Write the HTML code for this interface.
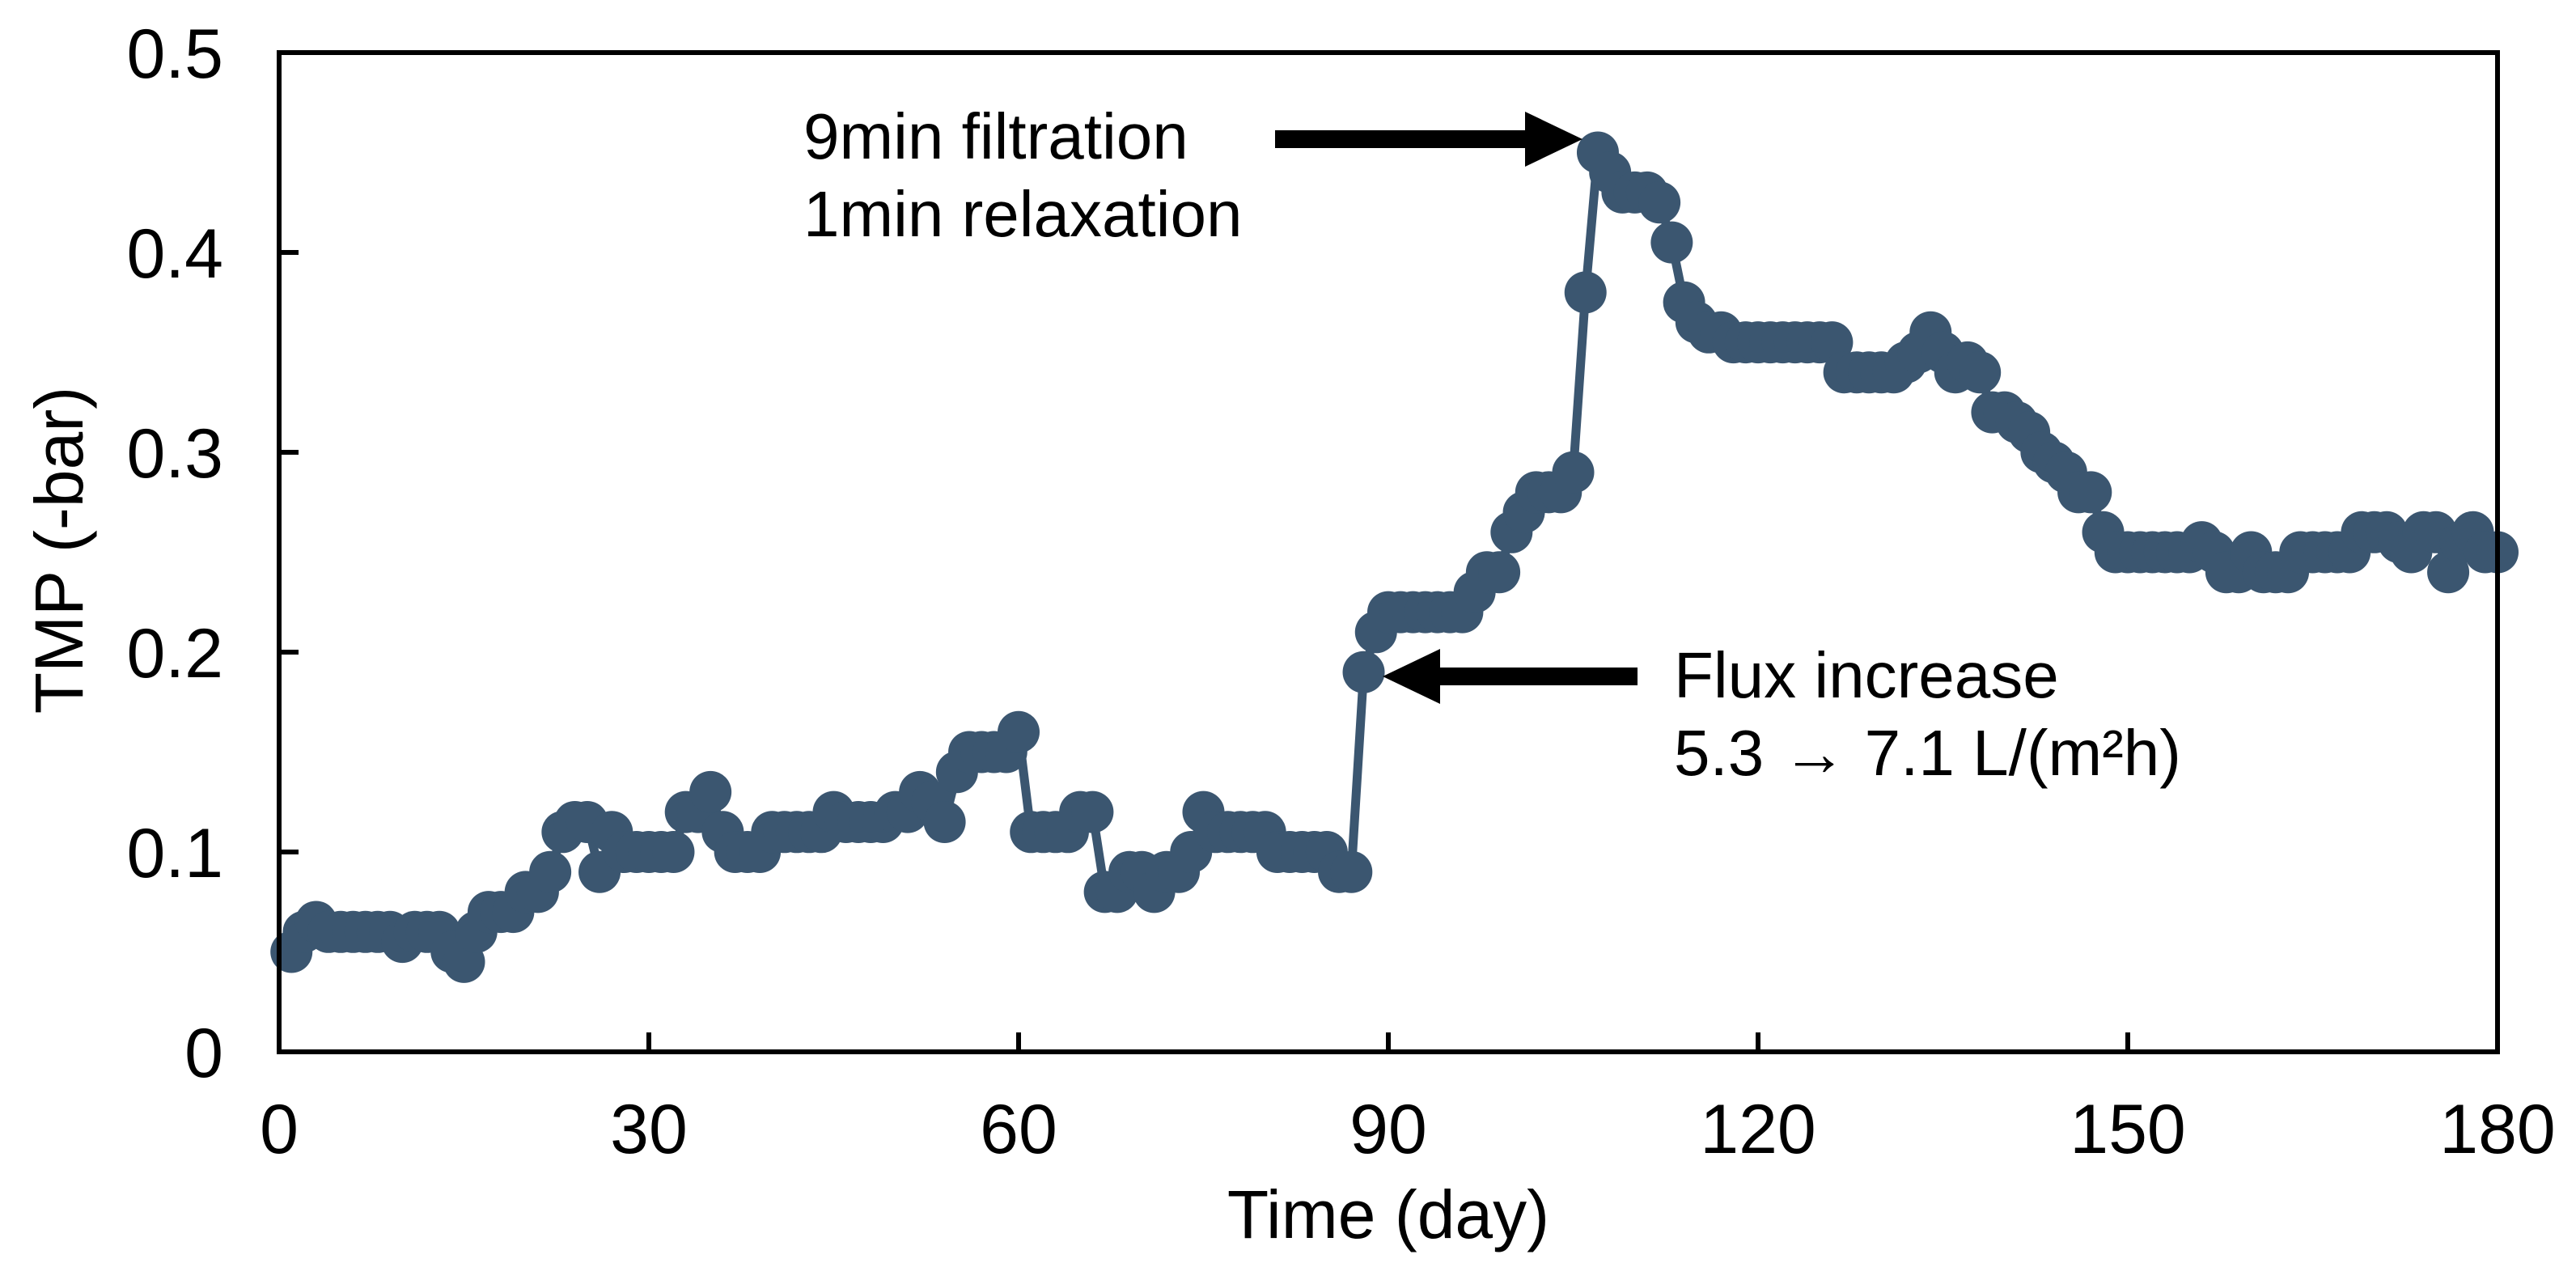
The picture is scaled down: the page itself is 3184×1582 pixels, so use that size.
<!DOCTYPE html>
<html><head><meta charset="utf-8"><style>
html,body{margin:0;padding:0;background:#fff}
svg{display:block}
text{font-family:"Liberation Sans",Arial,sans-serif;fill:#000}
</style></head><body>
<svg id="chart" width="3184" height="1582" viewBox="0 0 3184 1582" xmlns="http://www.w3.org/2000/svg">
<g id="plot"></g>
<g id="axes"></g>
<text x="1716" y="1530" font-size="84" text-anchor="middle">Time (day)</text>
<text transform="translate(102,680) rotate(-90)" font-size="84" text-anchor="middle">TMP (-bar)</text>
<g>
<text x="993" y="196" font-size="80">9min filtration</text>
<text x="993" y="292" font-size="80">1min relaxation</text>
<line x1="1576" y1="172" x2="1890" y2="172" stroke="#000" stroke-width="22"/>
<polygon points="1885,138 1956,172 1885,206" fill="#000"/>
</g>
<g>
<text x="2069" y="862" font-size="80">Flux increase</text>
<text x="2069" y="958" font-size="80">5.3 → 7.1 L/(m²h)</text>
<line x1="2024" y1="836" x2="1775" y2="836" stroke="#000" stroke-width="22"/>
<polygon points="1780,802 1709,836 1780,870" fill="#000"/>
</g>
</svg>
<script>
const days = [];
for (let d = 1; d <= 180; d++) days.push(d);
const tmpValues = [
0.05,0.06,0.065,0.06,0.06,0.06,0.06,0.06,0.06,0.055,
0.06,0.06,0.06,0.05,0.045,0.06,0.07,0.07,0.07,0.08,
0.08,0.09,0.11,0.115,0.115,0.09,0.11,0.1,0.1,0.1,
0.1,0.1,0.12,0.12,0.13,0.11,0.1,0.1,0.1,0.11,
0.11,0.11,0.11,0.11,0.12,0.115,0.115,0.115,0.115,0.12,
0.12,0.13,0.125,0.115,0.14,0.15,0.15,0.15,0.15,0.16,
0.11,0.11,0.11,0.11,0.12,0.12,0.08,0.08,0.09,0.09,
0.08,0.09,0.09,0.1,0.12,0.11,0.11,0.11,0.11,0.11,
0.1,0.1,0.1,0.1,0.1,0.09,0.09,0.19,0.21,0.22,
0.22,0.22,0.22,0.22,0.22,0.22,0.23,0.24,0.24,0.26,
0.27,0.28,0.28,0.28,0.29,0.38,0.45,0.44,0.43,0.43,
0.43,0.425,0.405,0.375,0.365,0.36,0.36,0.355,0.355,0.355,
0.355,0.355,0.355,0.355,0.355,0.355,0.34,0.34,0.34,0.34,
0.34,0.345,0.35,0.36,0.35,0.34,0.345,0.34,0.32,0.32,
0.315,0.31,0.3,0.295,0.29,0.28,0.28,0.26,0.25,0.25,
0.25,0.25,0.25,0.25,0.25,0.255,0.25,0.24,0.24,0.25,
0.24,0.24,0.24,0.25,0.25,0.25,0.25,0.25,0.26,0.26,
0.26,0.255,0.25,0.26,0.26,0.24,0.255,0.26,0.25,0.25];
const xTicks = [0,30,60,90,120,150,180];
const yTicks = [0,0.1,0.2,0.3,0.4,0.5];
const yTickLabels = ["0","0.1","0.2","0.3","0.4","0.5"];

const X0=345,X1=3087,Y0=1300,Y1=65;
const xs = v => X0 + (v-0)/(180-0)*(X1-X0);
const ys = v => Y0 - (v-0)/(0.5-0)*(Y0-Y1);
const NS="http://www.w3.org/2000/svg";
const plot=document.getElementById('plot'), axes=document.getElementById('axes');
function mk(tag,attrs,parent){const e=document.createElementNS(NS,tag);for(const k in attrs)e.setAttribute(k,attrs[k]);parent.appendChild(e);return e;}

const pts = days.map((d,i)=>xs(d)+','+ys(tmpValues[i])).join(' ');
const line = mk('polyline',{points:pts,fill:'none',stroke:'#3b5670','stroke-width':11,'stroke-linejoin':'round'},plot);


days.forEach((d,i)=>{
  const c = mk('circle',{cx:xs(d),cy:ys(tmpValues[i]),r:26,fill:'#3b5670'},plot);
  
  
});

const frame = mk('rect',{x:X0,y:Y1,width:X1-X0,height:Y0-Y1,fill:'none',stroke:'#000','stroke-width':6},axes);


xTicks.forEach(t=>{
  const tk = mk('line',{x1:xs(t),x2:xs(t),y1:Y0,y2:Y0-24,stroke:'#000','stroke-width':6},axes);
  
  
  const tx = mk('text',{x:xs(t),y:1425,'font-size':86,'text-anchor':'middle'},axes);
  tx.textContent = String(t);
  
  
});
yTicks.forEach((t,i)=>{
  const tk = mk('line',{x1:X0,x2:X0+24,y1:ys(t),y2:ys(t),stroke:'#000','stroke-width':6},axes);
  
  
  const tx = mk('text',{x:276,y:ys(t)+31,'font-size':86,'text-anchor':'end'},axes);
  tx.textContent = yTickLabels[i];
  
  
});
</script>
</body></html>
